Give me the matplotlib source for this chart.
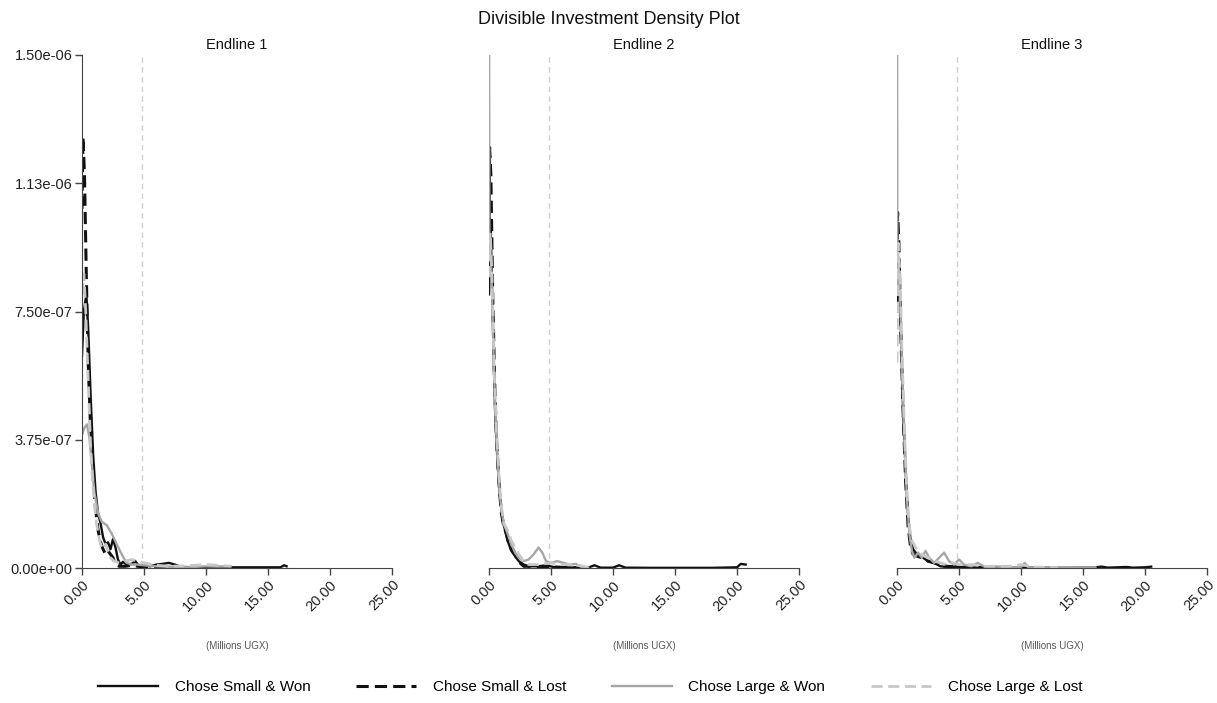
import matplotlib
matplotlib.use("Agg")
import matplotlib.pyplot as plt
from matplotlib.lines import Line2D
from matplotlib.ticker import FormatStrFormatter

plt.rcParams['font.family'] = ['Liberation Sans', 'DejaVu Sans']

panels = ["Endline 1", "Endline 2", "Endline 3"]
series_names = ["Chose Small & Won", "Chose Small & Lost", "Chose Large & Won", "Chose Large & Lost"]
x_ticks = [0, 5, 10, 15, 20, 25]
y_ticks = [0.0, 3.75e-7, 7.5e-7, 1.125e-6, 1.5e-6]
y_tick_labels = ["0.00e+00", "3.75e-07", "7.50e-07", "1.13e-06", "1.50e-06"]
cutoff = 4.85  # vertical reference line (millions UGX)
SCALE = 1e-7   # density values below are in units of 1e-7

# ---------------- Endline 1 ----------------
e1_sw_x = [0.0, 0.15, 0.35, 0.5, 0.7, 0.9, 1.1, 1.3, 1.5, 1.7, 1.9, 2.1, 2.3, 2.5, 2.7, 2.9, 3.1, 3.3, 3.6, 4.0,
           4.3, 4.6, 5.0, 5.5, 6.0, 6.5, 7.0, 7.5, 8.0, 9.0, 10.0, 11.0, 12.0, 13.0, 14.0, 15.0, 16.0, 16.3, 16.5]
e1_sw_y = [6.2, 7.5, 8.0, 7.0, 5.0, 3.3, 2.2, 1.6, 1.3, 0.9, 0.7, 0.75, 0.55, 0.85, 0.6, 0.25, 0.1, 0.18, 0.1, 0.12,
           0.2, 0.05, 0.08, 0.05, 0.1, 0.12, 0.15, 0.1, 0.03, 0.02, 0.02, 0.03, 0.02, 0.02, 0.02, 0.02, 0.02, 0.08, 0.05]
e1_sl_x = [0.0, 0.08, 0.2, 0.35, 0.5, 0.7, 0.9, 1.1, 1.3, 1.5, 1.7, 1.9, 2.1, 2.3, 2.5, 2.7, 3.0, 3.5, 4.0, 4.5, 5.0, 6.0, 7.0, 8.0]
e1_sl_y = [10.5, 12.6, 11.5, 8.5, 6.0, 4.0, 2.6, 1.7, 1.1, 0.75, 0.55, 0.4, 0.5, 0.4, 0.3, 0.1, 0.05, 0.05, 0.08, 0.05, 0.02, 0.02, 0.02, 0.01]
e1_lw_x = [0.0, 0.2, 0.4, 0.6, 0.8, 1.0, 1.3, 1.6, 2.0, 2.4, 2.8, 3.2, 3.6, 4.0, 4.5, 5.0, 6.0, 7.0, 8.0, 9.0, 10.0, 11.0, 12.0]
e1_lw_y = [3.9, 4.1, 4.2, 3.8, 3.0, 2.2, 1.6, 1.35, 1.25, 1.0, 0.7, 0.4, 0.15, 0.1, 0.1, 0.08, 0.05, 0.04, 0.03, 0.03, 0.05, 0.04, 0.05]
e1_ll_x = [0.0, 0.15, 0.3, 0.5, 0.7, 0.9, 1.1, 1.3, 1.5, 1.7, 1.9, 2.1, 2.3, 2.6, 3.0, 3.5, 4.0, 4.5, 5.0, 6.0, 7.0, 8.0, 9.0, 10.0, 11.0, 12.0]
e1_ll_y = [8.0, 8.6, 7.5, 5.5, 3.5, 2.3, 1.5, 1.0, 0.7, 0.55, 0.7, 0.5, 0.3, 0.2, 0.15, 0.2, 0.25, 0.2, 0.15, 0.08, 0.05, 0.06, 0.08, 0.1, 0.08, 0.05]

# ---------------- Endline 2 ----------------
e2_sw_x = [0.0, 0.1, 0.2, 0.35, 0.5, 0.7, 0.9, 1.1, 1.3, 1.5, 1.8, 2.1, 2.4, 2.8, 3.2, 4.0, 4.6, 5.2, 6.0, 7.0, 8.0, 8.5,
           9.0, 10.0, 10.5, 11.0, 13.0, 15.0, 18.0, 20.0, 20.3, 20.7]
e2_sw_y = [8.0, 10.2, 9.0, 6.5, 4.5, 3.0, 2.0, 1.4, 1.1, 0.8, 0.5, 0.35, 0.2, 0.1, 0.05, 0.05, 0.08, 0.03, 0.02, 0.01, 0.01, 0.08,
           0.01, 0.01, 0.08, 0.01, 0.005, 0.005, 0.005, 0.02, 0.12, 0.1]
e2_sl_x = [0.0, 0.05, 0.15, 0.3, 0.45, 0.6, 0.8, 1.0, 1.2, 1.4, 1.6, 1.8, 2.0, 2.2, 2.5, 2.8, 3.2, 4.0, 5.0, 6.0, 7.0]
e2_sl_y = [8.5, 12.3, 11.5, 8.0, 5.5, 3.8, 2.5, 1.6, 1.2, 1.0, 0.7, 0.55, 0.5, 0.3, 0.15, 0.05, 0.05, 0.03, 0.03, 0.02, 0.01]
e2_lw_x = [0.0, 0.03, 0.1, 0.25, 0.4, 0.6, 0.8, 1.0, 1.2, 1.5, 1.8, 2.1, 2.4, 2.8, 3.2, 3.6, 4.0, 4.3, 4.6, 5.0, 5.5, 6.0, 6.5,
           7.0, 7.5, 8.0]
e2_lw_y = [20.0, 9.0, 9.5, 8.0, 5.8, 3.8, 2.5, 1.7, 1.3, 1.0, 0.7, 0.45, 0.3, 0.2, 0.25, 0.4, 0.6, 0.45, 0.2, 0.15, 0.2, 0.15, 0.1,
           0.12, 0.02, 0.01]
e2_ll_x = [0.0, 0.1, 0.25, 0.4, 0.6, 0.8, 1.0, 1.2, 1.5, 1.8, 2.1, 2.4, 2.8, 3.2, 4.0, 5.0, 6.0, 7.0, 8.0]
e2_ll_y = [8.5, 9.8, 8.5, 6.0, 4.0, 2.7, 1.8, 1.3, 1.1, 0.8, 0.6, 0.4, 0.2, 0.1, 0.1, 0.15, 0.1, 0.1, 0.02]

# ---------------- Endline 3 ----------------
e3_sw_x = [0.0, 0.1, 0.2, 0.35, 0.5, 0.7, 0.9, 1.1, 1.3, 1.5, 1.8, 2.1, 2.5, 3.0, 3.5, 4.0, 5.0, 6.0, 7.0, 7.5, 8.0, 9.0,
           10.0, 11.0, 12.0, 14.0, 16.0, 16.5, 17.0, 18.5, 19.0, 20.0, 20.5]
e3_sw_y = [7.5, 9.0, 8.5, 6.5, 4.5, 2.8, 1.5, 0.8, 0.55, 0.45, 0.35, 0.3, 0.2, 0.15, 0.05, 0.03, 0.03, 0.02, 0.03, 0.05, 0.03, 0.02,
           0.01, 0.02, 0.01, 0.005, 0.02, 0.04, 0.01, 0.03, 0.01, 0.02, 0.04]
e3_sl_x = [0.0, 0.05, 0.15, 0.3, 0.5, 0.7, 0.9, 1.1, 1.3, 1.6, 2.0, 2.5, 3.0, 3.5, 4.0, 5.0, 6.0, 7.0]
e3_sl_y = [8.0, 10.4, 9.5, 7.0, 4.5, 2.5, 1.2, 0.6, 0.4, 0.35, 0.3, 0.2, 0.15, 0.1, 0.05, 0.03, 0.02, 0.02]
e3_lw_x = [0.0, 0.03, 0.1, 0.25, 0.4, 0.6, 0.8, 1.0, 1.2, 1.4, 1.7, 2.0, 2.3, 2.6, 3.0, 3.4, 3.8, 4.2, 4.6, 5.0, 5.4, 6.0,
           6.5, 7.0, 8.0, 9.0, 10.0, 10.3, 10.6, 12.0, 14.0, 16.0]
e3_lw_y = [20.0, 8.0, 9.0, 8.0, 6.0, 3.8, 2.0, 1.0, 0.5, 0.3, 0.45, 0.3, 0.5, 0.3, 0.15, 0.3, 0.45, 0.2, 0.1, 0.25, 0.1, 0.05,
           0.15, 0.05, 0.04, 0.02, 0.03, 0.15, 0.02, 0.02, 0.01, 0.02]
e3_ll_x = [0.0, 0.1, 0.25, 0.4, 0.6, 0.8, 1.0, 1.2, 1.5, 1.8, 2.2, 2.6, 3.0, 3.5, 4.0, 4.5, 5.0, 6.0, 7.0, 8.0, 9.0, 10.0,
           11.0, 12.0, 13.0]
e3_ll_y = [6.0, 9.5, 8.5, 6.3, 4.0, 2.2, 1.2, 0.8, 0.6, 0.45, 0.35, 0.3, 0.2, 0.15, 0.1, 0.15, 0.1, 0.1, 0.05, 0.05, 0.05, 0.1,
           0.03, 0.02, 0.01]

data = [
    [(e1_sw_x, e1_sw_y), (e1_sl_x, e1_sl_y), (e1_lw_x, e1_lw_y), (e1_ll_x, e1_ll_y)],
    [(e2_sw_x, e2_sw_y), (e2_sl_x, e2_sl_y), (e2_lw_x, e2_lw_y), (e2_ll_x, e2_ll_y)],
    [(e3_sw_x, e3_sw_y), (e3_sl_x, e3_sl_y), (e3_lw_x, e3_lw_y), (e3_ll_x, e3_ll_y)],
]

styles = [
    dict(color="#111111", linestyle="-", linewidth=1.7),
    dict(color="#111111", linestyle=(0, (4, 2)), linewidth=2.2),
    dict(color="#a6a6a6", linestyle="-", linewidth=1.7),
    dict(color="#c8c8c8", linestyle=(0, (4, 2)), linewidth=2.0),
]
draw_order = [2, 3, 0, 1]

fig = plt.figure(figsize=(12.17, 7.03), dpi=100)
lefts = [82 / 1217, 489 / 1217, 897 / 1217]
width = 310 / 1217
bottom = 1 - 568 / 703
height = (568 - 55) / 703
spine_color = "#444444"

for i, name in enumerate(panels):
    ax = fig.add_axes([lefts[i], bottom, width, height])
    ax.set_xlim(0, 25)
    ax.set_ylim(0, 1.5e-6)
    ax.axvline(cutoff, color="#d0d0d0", linestyle=(0, (4, 3)), linewidth=1.0, zorder=0)
    for k in draw_order:
        xs, ys = data[i][k]
        ax.plot(xs, [v * SCALE for v in ys], **styles[k], zorder=2 + k * 0.1)
    for s in ["top", "right"]:
        ax.spines[s].set_visible(False)
    ax.spines["bottom"].set_color(spine_color)
    ax.spines["left"].set_color(spine_color)
    ax.set_xticks(x_ticks)
    ax.xaxis.set_major_formatter(FormatStrFormatter("%.2f"))
    ax.tick_params(axis="x", colors=spine_color, labelcolor="#222222", labelsize=10.5, length=5, width=1, pad=2)
    for lbl in ax.get_xticklabels():
        lbl.set_rotation(45)
        lbl.set_ha("right")
        lbl.set_va("top")
        lbl.set_rotation_mode("anchor")
    if i == 0:
        ax.set_yticks(y_ticks)
        ax.set_yticklabels(y_tick_labels)
        ax.tick_params(axis="y", colors=spine_color, labelcolor="#222222", labelsize=10.5, length=5, width=1, pad=2)
    else:
        ax.spines["left"].set_visible(False)
        ax.set_yticks([])
    ax.set_title(name, fontsize=10.5, color="#111111", pad=4)
    ax.set_xlabel("(Millions UGX)", fontsize=7, color="#555555", labelpad=20)
    ax.patch.set_alpha(0)

fig.suptitle("Divisible Investment Density Plot", fontsize=13, y=0.984, color="#111111")

handles = [Line2D([0], [0], **styles[k]) for k in range(4)]
fig.legend(handles, series_names, loc="center", bbox_to_anchor=(0.485, 1 - 687 / 703), ncol=4, frameon=False,
           fontsize=11, handlelength=3.9, columnspacing=3.0, handletextpad=1.1)

fig.savefig("out.png", dpi=100)
